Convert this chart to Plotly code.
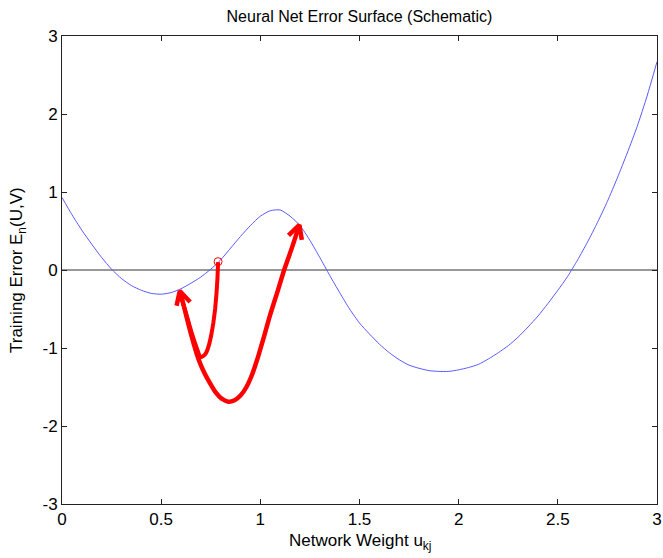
import math
import plotly.graph_objects as go

# ---- data ----
curve_x = [0.00, 0.05, 0.10, 0.15, 0.20, 0.25, 0.30, 0.35, 0.40, 0.45,
           0.50, 0.55, 0.60, 0.65, 0.70, 0.75, 0.80, 0.85, 0.90, 0.95,
           1.00, 1.05, 1.10, 1.15, 1.20, 1.25, 1.30, 1.35, 1.40, 1.45,
           1.50, 1.55, 1.60, 1.65, 1.70, 1.75, 1.80, 1.85, 1.90, 1.95,
           2.00, 2.05, 2.10, 2.15, 2.20, 2.25, 2.30, 2.35, 2.40, 2.45,
           2.50, 2.55, 2.60, 2.65, 2.70, 2.75, 2.80, 2.85, 2.90, 2.95, 3.00]
curve_y = [0.93, 0.71, 0.51, 0.33, 0.16, 0.01, -0.11, -0.20, -0.26, -0.30,
           -0.31, -0.29, -0.24, -0.17, -0.09, 0.01, 0.13, 0.28, 0.43, 0.57,
           0.69, 0.76, 0.77, 0.69, 0.57, 0.38, 0.16, -0.07, -0.29, -0.50,
           -0.68, -0.82, -0.95, -1.06, -1.15, -1.22, -1.26, -1.29, -1.30, -1.30,
           -1.28, -1.25, -1.21, -1.14, -1.06, -0.97, -0.86, -0.73, -0.59, -0.43,
           -0.26, -0.08, 0.13, 0.36, 0.61, 0.88, 1.18, 1.50, 1.84, 2.23, 2.67]

zero_x = [0, 3]
zero_y = [0, 0]

start_x = [0.787]
start_y = [0.107]

arrow1_x = [0.787, 0.784, 0.779, 0.772, 0.763, 0.752, 0.740, 0.727, 0.714,
            0.703, 0.695, 0.685, 0.670, 0.652, 0.635, 0.619, 0.605, 0.594]
arrow1_y = [0.10, -0.10, -0.30, -0.50, -0.68, -0.84, -0.97, -1.06, -1.10,
            -1.115, -1.11, -1.04, -0.93, -0.79, -0.64, -0.50, -0.38, -0.27]

arrow2_x = [0.598, 0.620, 0.640, 0.660, 0.680, 0.700, 0.720, 0.746, 0.775,
            0.805, 0.839, 0.870, 0.900, 0.930, 0.960, 0.990, 1.020, 1.050,
            1.085, 1.120, 1.160, 1.197]
arrow2_y = [-0.30, -0.52, -0.72, -0.91, -1.08, -1.22, -1.33, -1.45, -1.57,
            -1.65, -1.69, -1.67, -1.61, -1.50, -1.33, -1.10, -0.84, -0.57,
            -0.29, 0.00, 0.29, 0.577]

x_ticks = [0, 0.5, 1, 1.5, 2, 2.5, 3]
x_tick_text = ["0", "0.5", "1", "1.5", "2", "2.5", "3"]
y_ticks = [-3, -2, -1, 0, 1, 2, 3]
y_tick_text = ["-3", "-2", "-1", "0", "1", "2", "3"]

title_text = "Neural Net Error Surface (Schematic)"
x_label = "Network Weight u<sub>kj</sub>"
y_label = "Training Error E<sub>n</sub>(U,V)"

# ---- layout geometry ----
W, H = 663, 558
ML, MR, MT, MB = 62, 6, 36, 54
X_RANGE = [0, 3]
Y_RANGE = [-3, 3]
PX_X = (W - ML - MR) / (X_RANGE[1] - X_RANGE[0])
PX_Y = (H - MT - MB) / (Y_RANGE[1] - Y_RANGE[0])

FONT = "Liberation Sans, Arial, Helvetica, sans-serif"
RED = "#ff0000"


def head(xs, ys, length=13, angle=28):
    """V-shaped arrowhead wings at the path end, computed in pixel space."""
    tx, ty = xs[-1], ys[-1]
    px, py = xs[-3], ys[-3]
    dx = (px - tx) * PX_X
    dy = (py - ty) * PX_Y
    n = math.hypot(dx, dy)
    dx, dy = dx / n, dy / n
    out_x, out_y = [], []
    for s in (1, -1):
        a = math.radians(angle) * s
        rx = dx * math.cos(a) - dy * math.sin(a)
        ry = dx * math.sin(a) + dy * math.cos(a)
        out_x.append(tx + rx * length / PX_X)
        out_y.append(ty + ry * length / PX_Y)
    return [out_x[0], tx, out_x[1]], [out_y[0], ty, out_y[1]]


fig = go.Figure()

fig.add_trace(go.Scatter(x=zero_x, y=zero_y, mode="lines",
                         line=dict(color="#333333", width=1), hoverinfo="skip"))
fig.add_trace(go.Scatter(x=curve_x, y=curve_y, mode="lines",
                         line=dict(color="#5a5aff", width=1, shape="spline", smoothing=0.6)))

fig.add_trace(go.Scatter(x=arrow2_x, y=arrow2_y, mode="lines",
                         line=dict(color=RED, width=4.5, shape="spline", smoothing=0.5)))
h2x, h2y = head(arrow2_x, arrow2_y, length=15)
fig.add_trace(go.Scatter(x=h2x, y=h2y, mode="lines",
                         line=dict(color=RED, width=4.5)))

fig.add_trace(go.Scatter(x=arrow1_x, y=arrow1_y, mode="lines",
                         line=dict(color=RED, width=4, shape="spline", smoothing=0.3)))
h1x, h1y = head(arrow1_x, arrow1_y, length=15)
fig.add_trace(go.Scatter(x=h1x, y=h1y, mode="lines",
                         line=dict(color=RED, width=4.5)))

fig.add_trace(go.Scatter(x=start_x, y=start_y, mode="markers",
                         marker=dict(symbol="circle-open", size=8, color=RED,
                                     line=dict(width=1, color=RED))))

axis_common = dict(showgrid=False, zeroline=False, showline=True, linecolor="#222222",
                   linewidth=1, mirror="allticks", ticks="inside", ticklen=5,
                   tickcolor="#222222", tickfont=dict(family=FONT, size=17, color="black"))

fig.update_layout(
    width=W, height=H,
    margin=dict(l=ML, r=MR, t=MT, b=MB, autoexpand=False),
    paper_bgcolor="white", plot_bgcolor="white",
    showlegend=False,
    font=dict(family=FONT, color="black"),
    title=dict(text=title_text, x=(ML + (W - ML - MR) / 2) / W, xanchor="center",
               y=1 - 16 / H, yanchor="middle", yref="container",
               font=dict(family=FONT, size=16, color="black")),
    xaxis=dict(range=X_RANGE, tickvals=x_ticks, ticktext=x_tick_text, **axis_common),
    yaxis=dict(range=Y_RANGE, tickvals=y_ticks, ticktext=y_tick_text, **axis_common),
    annotations=[
        dict(text=x_label, xref="paper", yref="paper", x=0.5, y=0, yshift=-38,
             xanchor="center", yanchor="middle", showarrow=False,
             font=dict(family=FONT, size=17, color="black")),
        dict(text=y_label, xref="paper", yref="paper", x=0, y=0.5, xshift=-44,
             xanchor="center", yanchor="middle", textangle=-90, showarrow=False,
             font=dict(family=FONT, size=17, color="black")),
    ],
)

fig.write_html("out.html",
               config={"displayModeBar": False, "staticPlot": True},
               post_script="document.body.style.margin='0px';document.body.style.overflow='hidden';")
